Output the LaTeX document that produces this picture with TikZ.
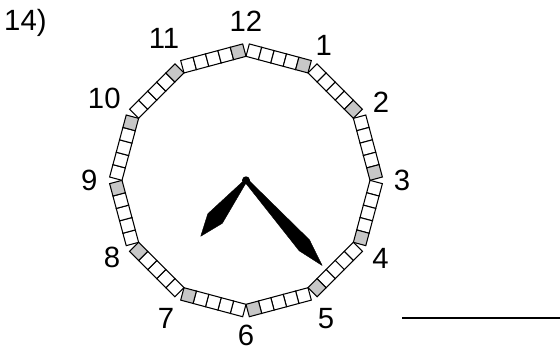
\documentclass[tikz,border=0pt]{standalone}
\usepackage{fontspec}
\setmainfont{Liberation Sans}
\usetikzlibrary{positioning, calc}
\definecolor{hourgray}{gray}{0.78}

\begin{document}
\begin{tikzpicture}[
    minbox/.style={draw, line width=0.9pt, fill=white},
    hourbox/.style={minbox, fill=hourgray},
    numeral/.style={font=\fontsize{25}{30}\selectfont, inner sep=0pt},
    hand/.style={fill=black, draw=black, line width=0.3pt, line join=round}
]
    \useasboundingbox (0,0) rectangle (16.8,10.5);
    \coordinate (c) at (7.38,5.09);

    % Question number
    \node[numeral, anchor=base west] (qnum) at (0.12,9.57) {14)};

    % Minute boxes, grey one at each hour
    \foreach \k in {0,...,11} {
        \begin{scope}[shift={(c)}, rotate=-30*\k-15]
            \foreach \j in {0,...,3}
                \draw[minbox] ({-0.9628+\j*0.3851},3.593) rectangle ++(0.3851,0.3851);
            \draw[hourbox] ({-0.9628+4*0.3851},3.593) rectangle ++(0.3851,0.3851);
        \end{scope}
    }

    % Numbers
    \foreach \h/\r in {1/4.67, 2/4.68, 3/4.68, 4/4.66, 5/4.8, 6/4.64,
                       7/4.8, 8/4.64, 9/4.7, 10/4.91, 11/4.92, 12/4.76}
        \path (c) ++({90-30*\h}:\r) node[numeral] (n\h) {\h};

    % Hands
    \begin{scope}[shift={(c)}, rotate=231]
        \fill[hand] (0,0.04) -- (1.45,0.26) -- (2.16,0) -- (1.5,-0.26) -- (0,-0.04) -- cycle;
    \end{scope}
    \begin{scope}[shift={(c)}, rotate=-48.2]
        \fill[hand] (0,0.06) -- (2.6,0.23) -- (3.43,0) -- (2.64,-0.22) -- (0,-0.06) -- cycle;
    \end{scope}
    \fill (c) circle (0.12);

    % Answer line
    \coordinate (ans0) at (12.06,0.96);
    \coordinate (ans1) at (16.8,0.96);
    \draw[line width=1.2pt] (ans0) -- (ans1);
\end{tikzpicture}
\end{document}
